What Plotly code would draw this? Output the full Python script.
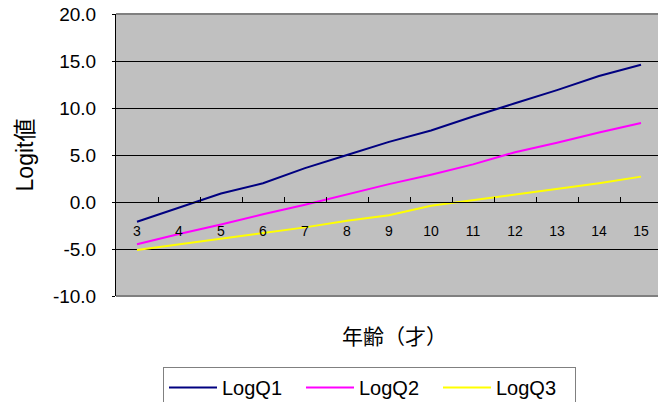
import plotly.graph_objects as go

# Age categories (years)
ages = ["3", "4", "5", "6", "7", "8", "9", "10", "11", "12", "13", "14", "15"]

# Logit values per series
log_q1 = [-2.1, -0.6, 0.9, 2.0, 3.6, 5.0, 6.4, 7.6, 9.1, 10.5, 11.9, 13.4, 14.6]
log_q2 = [-4.5, -3.4, -2.4, -1.3, -0.3, 0.8, 1.9, 2.9, 4.0, 5.3, 6.3, 7.4, 8.4]
log_q3 = [-5.1, -4.5, -3.9, -3.3, -2.7, -2.0, -1.4, -0.4, 0.2, 0.8, 1.4, 2.0, 2.7]

series_names = ["LogQ1", "LogQ2", "LogQ3"]
series_colors = ["#000080", "#FF00FF", "#FFFF00"]

y_ticks = [-10, -5, 0, 5, 10, 15, 20]
y_tick_labels = ["-10.0", "-5.0", "0.0", "5.0", "10.0", "15.0", "20.0"]

x_title = "年齢（才）"
y_title = "Logit値"

FONT = "Liberation Sans, Arial, Noto Sans CJK JP, sans-serif"

# plot area in pixels: x 116..658, y 14..296
PLOT_L, PLOT_R, PLOT_T, PLOT_B = 116, 658, 14, 296
PW, PH = PLOT_R - PLOT_L, PLOT_B - PLOT_T


def px_x(x):
    return (x - PLOT_L) / PW


def px_y(y):
    return (PLOT_B - y) / PH


fig = go.Figure()
for name, vals, color in zip(series_names, [log_q1, log_q2, log_q3], series_colors):
    fig.add_trace(go.Scatter(
        x=ages, y=vals, name=name, mode="lines",
        line=dict(color=color, width=2),
    ))

fig.update_layout(
    width=658, height=402,
    margin=dict(l=PLOT_L, r=658 - PLOT_R, t=PLOT_T, b=402 - PLOT_B, autoexpand=False),
    paper_bgcolor="white",
    plot_bgcolor="#C0C0C0",
    font=dict(family=FONT, color="black"),
    showlegend=True,
    legend=dict(
        orientation="h",
        x=px_x(163), xanchor="left",
        y=px_y(367), yanchor="top",
        bgcolor="white", bordercolor="#808080", borderwidth=1,
        font=dict(size=20, family=FONT),
        itemwidth=48,
        entrywidth=74, entrywidthmode="pixels",
        traceorder="normal",
    ),
    xaxis=dict(
        type="category",
        range=[-0.5, -0.5 + PW / 42],
        anchor="free", position=1 / 3,
        showline=True, linecolor="black", linewidth=1,
        ticks="inside", ticklen=5, tickcolor="black",
        tickson="boundaries",
        showgrid=False, zeroline=False,
        tickfont=dict(size=14, family=FONT),
        ticklabelstandoff=16,
    ),
    yaxis=dict(
        range=[-10, 20],
        tickvals=y_ticks, ticktext=y_tick_labels,
        showline=True, linecolor="black", linewidth=1,
        ticks="outside", ticklen=3, tickcolor="black",
        showgrid=True, gridcolor="black", gridwidth=1,
        zeroline=False,
        tickfont=dict(size=19, family=FONT),
        ticklabelstandoff=12,
        title=dict(text=y_title, font=dict(size=23, family=FONT), standoff=12),
    ),
    annotations=[
        dict(text=x_title, xref="paper", yref="paper",
             x=px_x(394), y=px_y(335), xanchor="center", yanchor="middle",
             showarrow=False, font=dict(size=21, family="Noto Sans CJK JP")),
    ],
    shapes=[
        dict(type="line", xref="x domain", yref="y domain", x0=0, x1=1, y0=1, y1=1,
             line=dict(color="#808080", width=2), layer="above"),
        dict(type="line", xref="x domain", yref="y domain", x0=0, x1=1, y0=0, y1=0,
             line=dict(color="#808080", width=2), layer="above"),
    ],
)

fig.write_html("out.html")
